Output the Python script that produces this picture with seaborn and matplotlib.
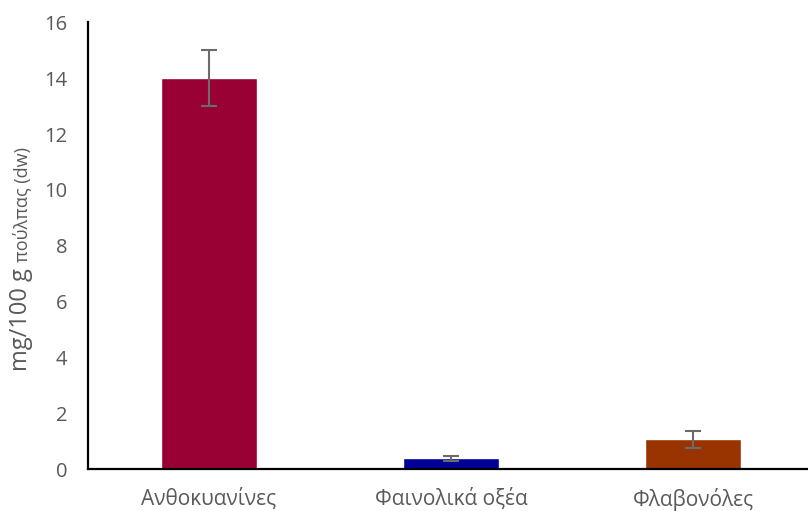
import matplotlib
matplotlib.use("Agg")
import matplotlib.pyplot as plt
import seaborn as sns
import pandas as pd

# Phenolic content of the pulp (dry weight)
categories = ["Ανθοκυανίνες", "Φαινολικά οξέα", "Φλαβονόλες"]
values = [14.0, 0.38, 1.07]
errors = [1.0, 0.1, 0.3]
bar_colors = ["#990033", "#000099", "#993300"]
y_ticks = [0, 2, 4, 6, 8, 10, 12, 14, 16]

sns.set_theme(style="white")
plt.rcParams["font.family"] = ["Open Sans", "DejaVu Sans"]

df = pd.DataFrame({"category": categories, "value": values})

fig = plt.figure(figsize=(8.08, 5.11), dpi=100)
ax = fig.add_axes([88 / 808, 42 / 511, 726 / 808, 446.5 / 511])

sns.barplot(data=df, x="category", y="value", hue="category",
            palette=bar_colors, width=0.4, saturation=1, legend=False,
            errorbar=None, ax=ax)

ax.errorbar(range(len(categories)), values, yerr=errors, fmt="none",
            ecolor="#6b6b6b", elinewidth=1.5, capsize=6, capthick=1.5,
            zorder=5)

ax.set_xlim(-0.5, len(categories) - 0.5)
ax.set_ylim(0, 16)
ax.set_yticks(y_ticks)
ax.set_yticklabels([str(t) for t in y_ticks])
ax.set_xlabel("")
ax.set_ylabel("")

for side in ("top", "right"):
    ax.spines[side].set_visible(False)
for side in ("left", "bottom"):
    ax.spines[side].set_color("black")
    ax.spines[side].set_linewidth(1.6)

ax.tick_params(axis="both", length=0, labelcolor="#595959")
ax.tick_params(axis="y", pad=15, labelsize=14.5)
ax.tick_params(axis="x", pad=14, labelsize=15)

# Axis title with a larger unit part and a smaller descriptor, sharing a baseline
fig.canvas.draw()
base_x = 27 / 808
t1 = fig.text(base_x, (511 - 371) / 511, "mg/100 g ", rotation=90,
              rotation_mode="anchor", ha="left", va="baseline",
              fontsize=17, color="#595959")
fig.canvas.draw()
bb = t1.get_window_extent()
t2 = fig.text(base_x, bb.y1 / fig.bbox.height, "πούλπας (dw)", rotation=90,
              rotation_mode="anchor", ha="left", va="baseline",
              fontsize=13, color="#595959")

fig.savefig("out.png", dpi=100)
